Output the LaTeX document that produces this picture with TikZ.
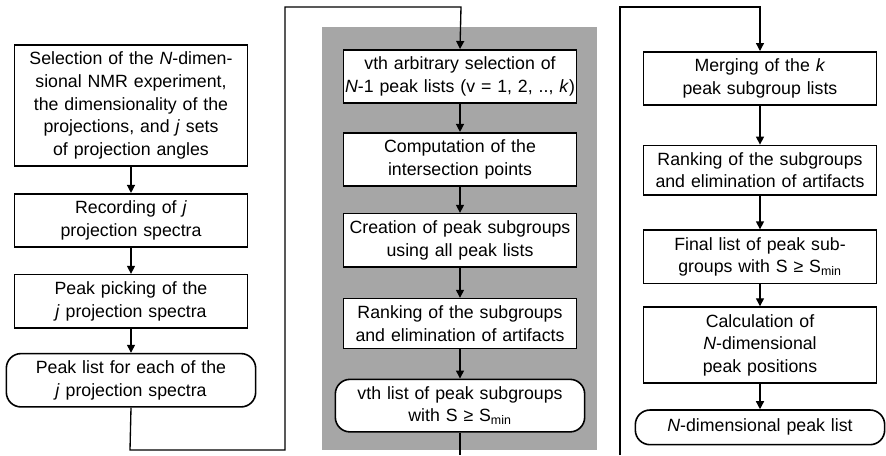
\documentclass[tikz,border=0pt]{standalone}
\usepackage{fontspec}
\setmainfont{Liberation Sans}
\usetikzlibrary{positioning,arrows.meta}

\tikzset{
  stepbox/.style={draw, line width=1.2pt, fill=white, align=center,
    text width=174pt, inner xsep=0.5pt, inner ysep=5.3pt,
    font=\fontsize{13.3}{17}\selectfont},
  listbox/.style={stepbox, rounded corners=11pt, text width=186pt},
  flow/.style={line width=1pt, -{Triangle[length=6pt,width=6pt]}},
  link/.style={line width=1pt},
}

\begin{document}
\begin{tikzpicture}[x=0.75pt, y=-0.75pt, node distance=19.5pt]
    \useasboundingbox (0,0) rectangle (886,455);
    \fill[gray!70] (322,27) rectangle (597,450);

    % first column
    \node [stepbox, anchor=north] (sel) at (131,44) {Selection of the \textit{N}-dimen-\\sional NMR experiment,\\the dimensionality of the\\projections, and \textit{j} sets\\of projection angles};
    \node [stepbox, below=of sel] (rec) {Recording of \textit{j}\\projection spectra};
    \node [stepbox, below=of rec] (pick) {Peak picking of the\\\textit{j} projection spectra};
    \node [listbox, below=18pt of pick] (plist) {Peak list for each of the\\\textit{j} projection spectra};

    % second column (grey)
    \node [stepbox, anchor=north] (vsel) at (460,49) {vth arbitrary selection of\\\textit{N}-1 peak lists (v = 1, 2, .., \textit{k})};
    \node [stepbox, below=21pt of vsel] (inter) {Computation of the\\intersection points};
    \node [stepbox, below=of inter] (sub) {Creation of peak subgroups\\using all peak lists};
    \node [stepbox, below=22.5pt of sub] (rank) {Ranking of the subgroups\\and elimination of artifacts};
    \node [listbox, below=22pt of rank] (vlist) {vth list of peak subgroups\\with S ≥ S\textsubscript{min}};

    % third column
    \node [stepbox, anchor=north] (merge) at (760,51) {Merging of the \textit{k}\\peak subgroup lists};
    \node [stepbox, below=29pt of merge] (rank2) {Ranking of the subgroups\\and elimination of artifacts};
    \node [stepbox, below=25pt of rank2] (final) {Final list of peak sub-\\groups with S ≥ S\textsubscript{min}};
    \node [stepbox, below=16.5pt of final] (calc) {Calculation of\\\textit{N}-dimensional\\peak positions};
    \node [listbox, below=19pt of calc, minimum height=26pt] (nlist) {\textit{N}-dimensional peak list};

    \coordinate (c1) at (130,450);
    \coordinate (c2) at (285,450);
    \coordinate (c3) at (285,7);
    \coordinate (c4) at (461,7);
    \coordinate (c5) at (460,455);
    \coordinate (c6) at (620,455);
    \coordinate (c7) at (620,7);
    \coordinate (c8) at (760,7);

    \draw [flow] (sel) -- (rec);
    \draw [flow] (rec) -- (pick);
    \draw [flow] (pick) -- (plist);
    \draw [flow] (plist.south) -- (c1) -- (c2) -- (c3) -- (c4) -- (vsel.north);
    \draw [flow] (vsel) -- (inter);
    \draw [flow] (inter) -- (sub);
    \draw [flow] (sub) -- (rank);
    \draw [flow] (rank) -- (vlist);
    \draw [link] (vlist.south) -- (c5);
    \draw [flow] (c6) -- (c7) -- (c8) -- (merge.north);
    \draw [flow] (merge) -- (rank2);
    \draw [flow] (rank2) -- (final);
    \draw [flow] (final) -- (calc);
    \draw [flow] (calc) -- (nlist);
\end{tikzpicture}
\end{document}
